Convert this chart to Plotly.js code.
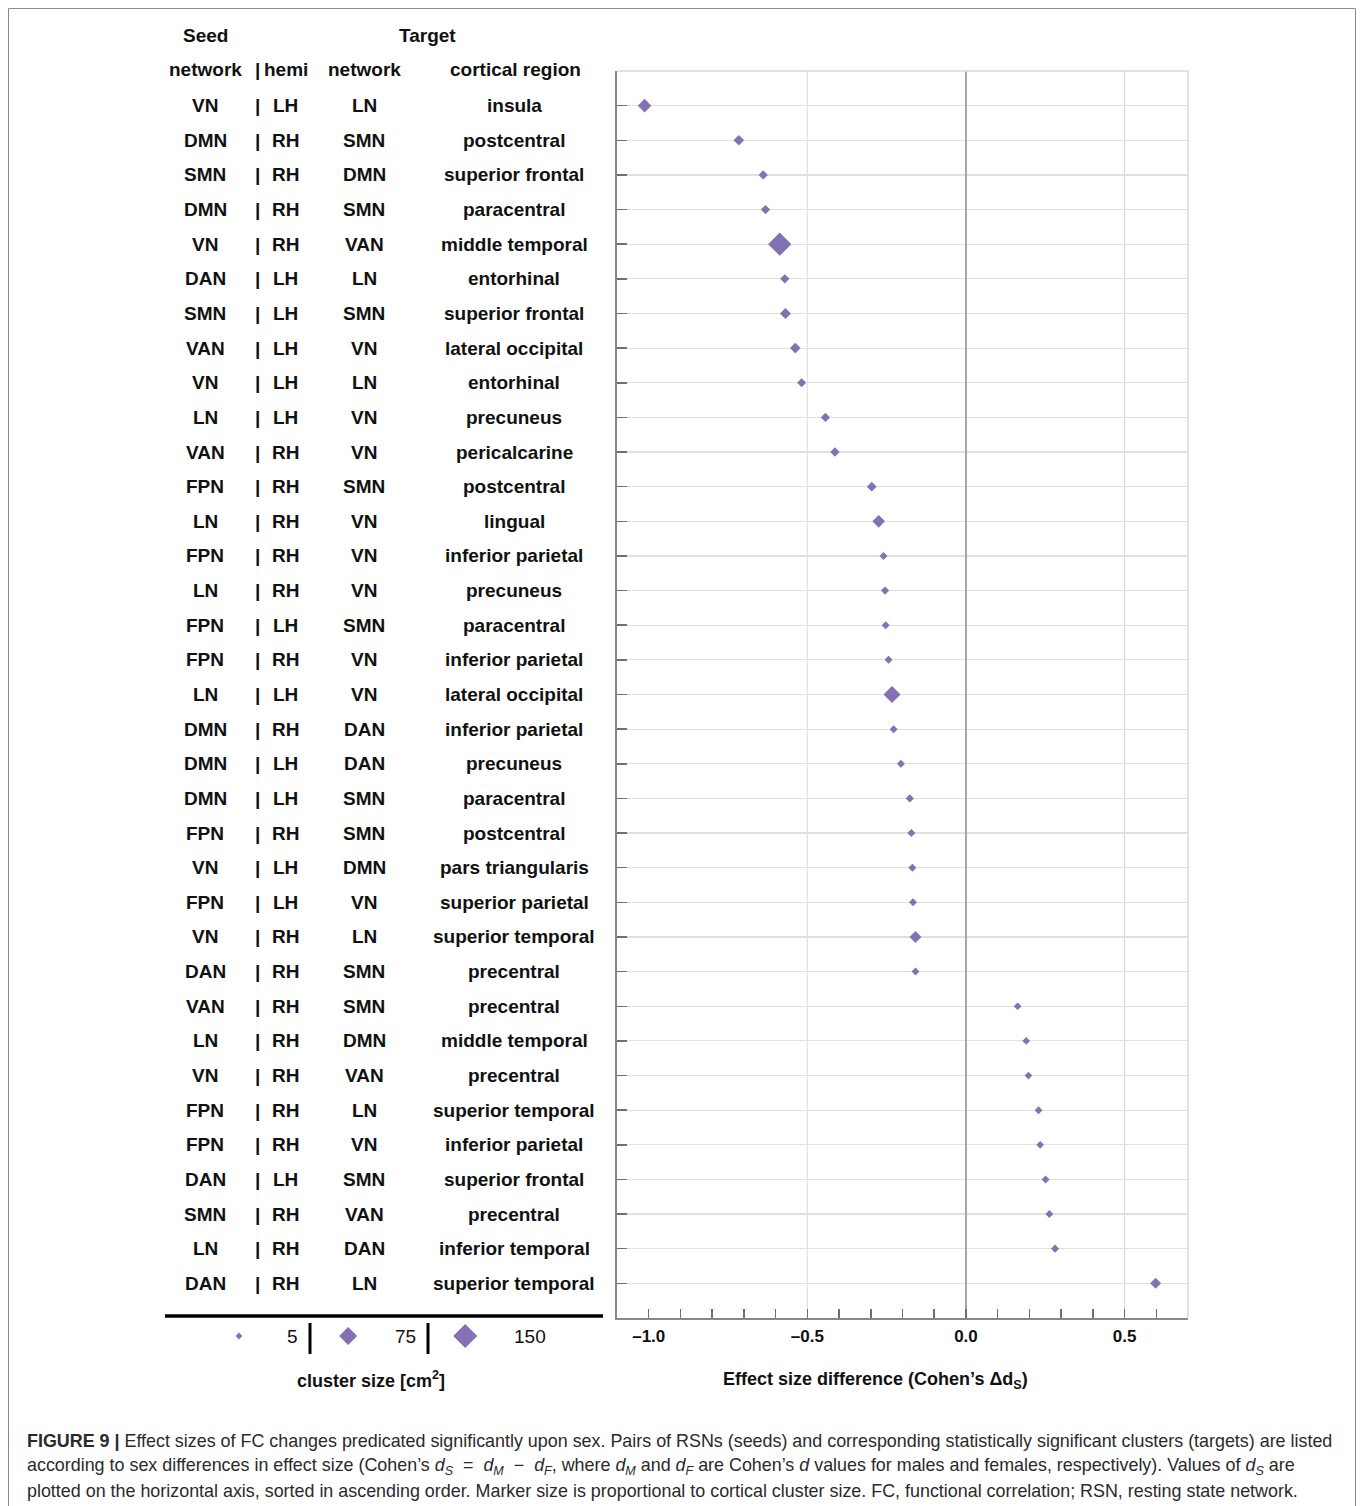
<!DOCTYPE html>
<html>
<head>
<meta charset="utf-8">
<script src="https://cdn.plot.ly/plotly-3.0.1.min.js"></script>
<style>
  html, body { margin: 0; padding: 0; background: #ffffff; }
  #chart { width: 1360px; height: 1506px; }
</style>
</head>
<body>
<div id="chart"></div>
<script>
// ---------------- data ----------------
const seedNetwork = ['VN','DMN','SMN','DMN','VN','DAN','SMN','VAN','VN','LN','VAN','FPN','LN','FPN','LN','FPN','FPN','LN','DMN','DMN','DMN','FPN','VN','FPN','VN','DAN','VAN','LN','VN','FPN','FPN','DAN','SMN','LN','DAN'];
const hemisphere = ['LH','RH','RH','RH','RH','LH','LH','LH','LH','LH','RH','RH','RH','RH','RH','LH','RH','LH','RH','LH','LH','RH','LH','LH','RH','RH','RH','RH','RH','RH','RH','LH','RH','RH','RH'];
const targetNetwork = ['LN','SMN','DMN','SMN','VAN','LN','SMN','VN','LN','VN','VN','SMN','VN','VN','VN','SMN','VN','VN','DAN','DAN','SMN','SMN','DMN','VN','LN','SMN','SMN','DMN','VAN','LN','VN','SMN','VAN','DAN','LN'];
const corticalRegion = ['insula','postcentral','superior frontal','paracentral','middle temporal','entorhinal','superior frontal','lateral occipital','entorhinal','precuneus','pericalcarine','postcentral','lingual','inferior parietal','precuneus','paracentral','inferior parietal','lateral occipital','inferior parietal','precuneus','paracentral','postcentral','pars triangularis','superior parietal','superior temporal','precentral','precentral','middle temporal','precentral','superior temporal','inferior parietal','superior frontal','precentral','inferior temporal','superior temporal'];
const effectSizeDiff = [-1.013,-0.716,-0.639,-0.632,-0.587,-0.571,-0.569,-0.538,-0.518,-0.443,-0.413,-0.297,-0.275,-0.260,-0.255,-0.253,-0.244,-0.233,-0.228,-0.205,-0.177,-0.172,-0.169,-0.167,-0.159,-0.159,0.163,0.190,0.197,0.229,0.234,0.251,0.263,0.281,0.598];
const clusterSize = [37,19,13,13,140,13,21,19,12,13,13,15,31,8,9,8,8,66,8,8,9,8,8,8,27,8,7,7,7,8,7,8,8,9,21];
const legendSizes = [5,75,150];
const legendLabels = ['5','75','150'];
const xTickVals = [-1.0,-0.5,0.0,0.5];
const xTickText = ['\u20131.0','\u20130.5','0.0','0.5'];

// ---------------- page geometry ----------------
const PW = 1360, PH = 1506;
const px = v => v / PW;              // page pixel -> paper x
const py = v => (PH - v) / PH;       // page pixel -> paper y
const PLOT_L = 617, PLOT_R = 1188, PLOT_T = 71, PLOT_B = 1318;

const PURPLE = '#8471b3';
const TXT = '#111111';
const FONT = 'Liberation Sans, Arial, sans-serif';

// marker width grows with sqrt of area (cm^2); plotly diamond width = 1.3*size
const markerSize = a => (3.2 + 1.7 * Math.sqrt(a)) / 1.3;

const rows = effectSizeDiff.map((_, i) => i + 1);

const traces = [
  {
    type: 'scatter', mode: 'markers',
    x: effectSizeDiff, y: rows,
    xaxis: 'x', yaxis: 'y',
    marker: { symbol: 'diamond', color: PURPLE, opacity: 1, size: clusterSize.map(markerSize), line: { width: 0 } },
    cliponaxis: false, hoverinfo: 'x'
  },
  {
    type: 'scatter', mode: 'markers',
    x: legendSizes, y: legendSizes.map(() => 0),
    xaxis: 'x2', yaxis: 'y2',
    marker: { symbol: 'diamond', color: PURPLE, opacity: 1, size: legendSizes.map(markerSize), line: { width: 0 } },
    cliponaxis: false, hoverinfo: 'skip'
  }
];

const annotations = [];
function addText(text, x, y, opts) {
  annotations.push(Object.assign({
    text: text, x: x, y: y, xref: 'paper', yref: 'paper',
    showarrow: false, xanchor: 'center', yanchor: 'middle',
    font: { family: FONT, size: 19, color: TXT, weight: 'bold' }
  }, opts || {}));
}

// column headers
addText('Seed', px(205), py(36));
addText('Target', px(427), py(36));
addText('network', px(205), py(70));
addText('|', px(257), py(70));
addText('hemi', px(286), py(70));
addText('network', px(364), py(70));
addText('cortical region', px(515), py(70));

// row labels (tied to the y axis rows)
const colX = { seed: 205, pipe: 257, hemi: 285, target: 364, region: 514 };
rows.forEach((r, i) => {
  const o = { yref: 'y' };
  addText(seedNetwork[i], px(colX.seed), r, o);
  addText('|', px(colX.pipe), r, o);
  addText(hemisphere[i], px(colX.hemi), r, o);
  addText(targetNetwork[i], px(colX.target), r, o);
  addText(corticalRegion[i], px(colX.region), r, o);
});

// legend numbers + titles
const legNumX = [292, 405, 530];
legendLabels.forEach((t, i) => addText(t, px(legNumX[i]), py(1336), { font: { family: FONT, size: 19, color: TXT, weight: 'normal' } }));
addText('cluster size [cm<sup>2</sup>]', px(371), py(1379), { font: { family: FONT, size: 18, color: TXT, weight: 'bold' } });
addText('Effect size difference (Cohen\u2019s \u0394d<sub>S</sub>)', px(875), py(1380), { font: { family: FONT, size: 18, color: TXT, weight: 'bold' } });

// caption
const capLines = [
  '<b>FIGURE 9 |</b> Effect sizes of FC changes predicated significantly upon sex. Pairs of RSNs (seeds) and corresponding statistically significant clusters (targets) are listed',
  'according to sex differences in effect size (Cohen\u2019s <i>d<sub>S</sub></i>  =  <i>d<sub>M</sub></i>  \u2212  <i>d<sub>F</sub></i>, where <i>d<sub>M</sub></i> and <i>d<sub>F</sub></i> are Cohen\u2019s <i>d</i> values for males and females, respectively). Values of <i>d<sub>S</sub></i> are',
  'plotted on the horizontal axis, sorted in ascending order. Marker size is proportional to cortical cluster size. FC, functional correlation; RSN, resting state network.'
];
const capY = [1441, 1466, 1491];
capLines.forEach((t, i) => addText(t, px(25), py(capY[i]), { xanchor: 'left', font: { family: FONT, size: 17.9, color: '#2a2a2a', weight: 'normal' } }));

const shapes = [
  // outer frame
  { type: 'rect', xref: 'paper', yref: 'paper', x0: px(8.5), x1: px(1355.5), y0: py(1520), y1: py(8.5), line: { color: '#8a8a8a', width: 1 } },
  // light top/right border of plot
  { type: 'line', xref: 'paper', yref: 'paper', x0: px(PLOT_L), x1: px(PLOT_R), y0: py(PLOT_T), y1: py(PLOT_T), line: { color: '#d8d8d8', width: 1.5 } },
  { type: 'line', xref: 'paper', yref: 'paper', x0: px(PLOT_R), x1: px(PLOT_R), y0: py(PLOT_T), y1: py(PLOT_B), line: { color: '#d8d8d8', width: 1.5 } },
  // vertical grid lines
  { type: 'line', xref: 'x', yref: 'paper', x0: -0.5, x1: -0.5, y0: py(PLOT_T), y1: py(PLOT_B), layer: 'below', line: { color: '#e2e2e2', width: 1.2 } },
  { type: 'line', xref: 'x', yref: 'paper', x0: 0.5, x1: 0.5, y0: py(PLOT_T), y1: py(PLOT_B), layer: 'below', line: { color: '#dadada', width: 1.2 } },
  // thick separator
  { type: 'line', xref: 'paper', yref: 'paper', x0: px(165), x1: px(603), y0: py(1316), y1: py(1316), line: { color: '#000000', width: 3.5 } },
  // legend separators
  { type: 'line', xref: 'paper', yref: 'paper', x0: px(310), x1: px(310), y0: py(1323), y1: py(1354), line: { color: '#000000', width: 3 } },
  { type: 'line', xref: 'paper', yref: 'paper', x0: px(428), x1: px(428), y0: py(1323), y1: py(1354), line: { color: '#000000', width: 3 } }
];

const layout = {
  width: PW, height: PH,
  margin: { l: 0, r: 0, t: 0, b: 0 },
  paper_bgcolor: '#ffffff', plot_bgcolor: 'rgba(0,0,0,0)',
  showlegend: false,
  font: { family: FONT, color: TXT },
  xaxis: {
    domain: [px(PLOT_L), px(PLOT_R)],
    range: [-1.1, 0.7],
    tickvals: xTickVals, ticktext: xTickText,
    ticks: 'inside', ticklen: 9, tickwidth: 1.5, tickcolor: '#6f6f6f',
    minor: { dtick: 0.1, tick0: 0, ticks: 'inside', ticklen: 9, tickwidth: 1.5, tickcolor: '#6f6f6f', showgrid: false },
    showline: true, linecolor: '#888888', linewidth: 2,
    showgrid: false,
    zeroline: true, zerolinecolor: '#a6a6a6', zerolinewidth: 1.5,
    ticklabelstandoff: 2,
    tickfont: { family: FONT, size: 17, color: TXT, weight: 'bold' },
    fixedrange: true
  },
  yaxis: {
    domain: [py(PLOT_B), py(PLOT_T)],
    range: [36, 0],
    tickvals: rows, showticklabels: false,
    ticks: 'inside', ticklen: 10, tickwidth: 1.5, tickcolor: '#6f6f6f',
    showline: true, linecolor: '#888888', linewidth: 2,
    showgrid: true, gridcolor: '#e0e0e0', gridwidth: 1.2,
    zeroline: false, fixedrange: true
  },
  xaxis2: {
    domain: [px(183), px(521)],
    range: [5 + (183 - 239) / 1.56, 5 + (521 - 239) / 1.56],
    anchor: 'y2', visible: false, fixedrange: true
  },
  yaxis2: {
    domain: [py(1350), py(1322)],
    range: [-1, 1],
    anchor: 'x2', visible: false, fixedrange: true
  },
  annotations: annotations,
  shapes: shapes
};

Plotly.newPlot('chart', traces, layout, { staticPlot: true, displayModeBar: false });
</script>
</body>
</html>
